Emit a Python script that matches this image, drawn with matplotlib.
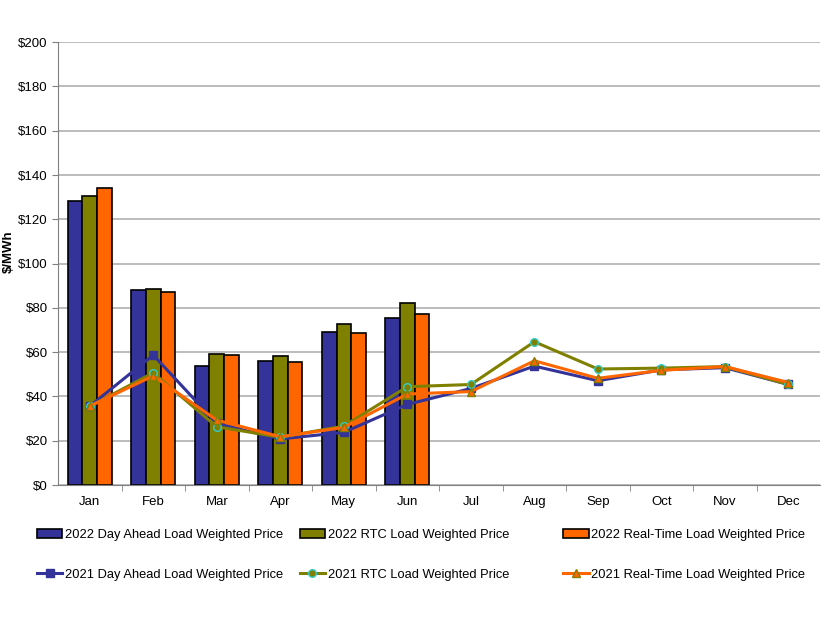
import matplotlib.pyplot as plt
import numpy as np

plt.rcParams['font.family'] = ['Liberation Sans', 'DejaVu Sans']

months = ["Jan", "Feb", "Mar", "Apr", "May", "Jun", "Jul", "Aug", "Sep", "Oct", "Nov", "Dec"]

# 2022 bars (Jan-Jun)
da_2022 = [128.2, 88.0, 53.7, 56.0, 69.0, 75.4]
rtc_2022 = [130.5, 88.5, 59.0, 58.2, 72.7, 82.4]
rt_2022 = [134.0, 87.0, 58.7, 55.5, 68.6, 77.4]

# 2021 lines
da_2021 = [35.6, 58.7, 27.8, 20.8, 23.8, 36.4, 43.6, 53.7, 47.1, 52.0, 53.0, 45.4]
rtc_2021 = [35.5, 50.7, 26.3, 21.6, 26.6, 44.4, 45.4, 64.7, 52.4, 52.8, 53.5, 45.4]
rt_2021 = [35.6, 49.3, 29.3, 21.8, 26.0, 41.1, 42.2, 56.1, 48.2, 51.8, 53.5, 46.3]

blue = "#333399"
olive = "#808000"
orange = "#FF6600"
cyan = "#33CCCC"

fig = plt.figure(figsize=(8.26, 6.2), dpi=100)
ax = fig.add_axes([0.0702, 0.2177, 0.9228, 0.7143])

x = np.arange(len(months))
xb = np.arange(len(da_2022))
w = 0.23
b1 = ax.bar(xb - w, da_2022, w, color=blue, edgecolor="black", linewidth=1.2, zorder=2)
b2 = ax.bar(xb, rtc_2022, w, color=olive, edgecolor="black", linewidth=1.2, zorder=2)
b3 = ax.bar(xb + w, rt_2022, w, color=orange, edgecolor="black", linewidth=1.2, zorder=2)

l1, = ax.plot(x, da_2021, color=blue, lw=2.2, marker="s", ms=5.5, mfc=blue, mec=blue, zorder=3)
l2, = ax.plot(x, rtc_2021, color=olive, lw=2.2, marker="o", ms=5.5, mfc=olive, mec=cyan, zorder=4)
l3, = ax.plot(x, rt_2021, color=orange, lw=2.2, marker="^", ms=5.5, mfc=orange, mec=olive, zorder=5)

ax.set_xlim(-0.5, 11.5)
ax.set_ylim(0, 200)
ax.set_yticks(range(0, 201, 20))
ax.set_yticklabels(["${}".format(v) for v in range(0, 201, 20)], fontsize=9.5)
ax.set_xticks(x)
ax.set_xticklabels(months, fontsize=9.5)
ax.tick_params(axis="x", which="major", length=0, pad=8)
ax.set_xticks(np.arange(0.5, 11.5, 1), minor=True)
ax.tick_params(axis="x", which="minor", length=4, color="#808080")
ax.tick_params(axis="y", length=4, color="#808080")
ax.grid(axis="y", color="#b0b0b0", lw=1.2, zorder=0)
ax.set_axisbelow(True)
for s in ["top", "right"]:
    ax.spines[s].set_visible(False)
ax.spines["left"].set_color("#808080")
ax.spines["bottom"].set_color("#808080")
fig.text(0.011, 1 - 252 / 620, "$/MWh", rotation=90, fontsize=9.5, fontweight="bold",
         ha="center", va="center")

cols = [
    ([b1, l1], ["2022 Day Ahead Load Weighted Price", "2021 Day Ahead Load Weighted Price"], 0.0448),
    ([b2, l2], ["2022 RTC Load Weighted Price", "2021 RTC Load Weighted Price"], 0.363),
    ([b3, l3], ["2022 Real-Time Load Weighted Price", "2021 Real-Time Load Weighted Price"], 0.682),
]
for hs, labs, xpos in cols:
    fig.legend(hs, labs, loc="center left", bbox_to_anchor=(xpos, 1 - 555 / 620), frameon=False,
               fontsize=9.3, handlelength=1.95, handletextpad=0.2, labelspacing=2.1,
               borderaxespad=0, borderpad=0)

fig.savefig("out.png", dpi=100)
